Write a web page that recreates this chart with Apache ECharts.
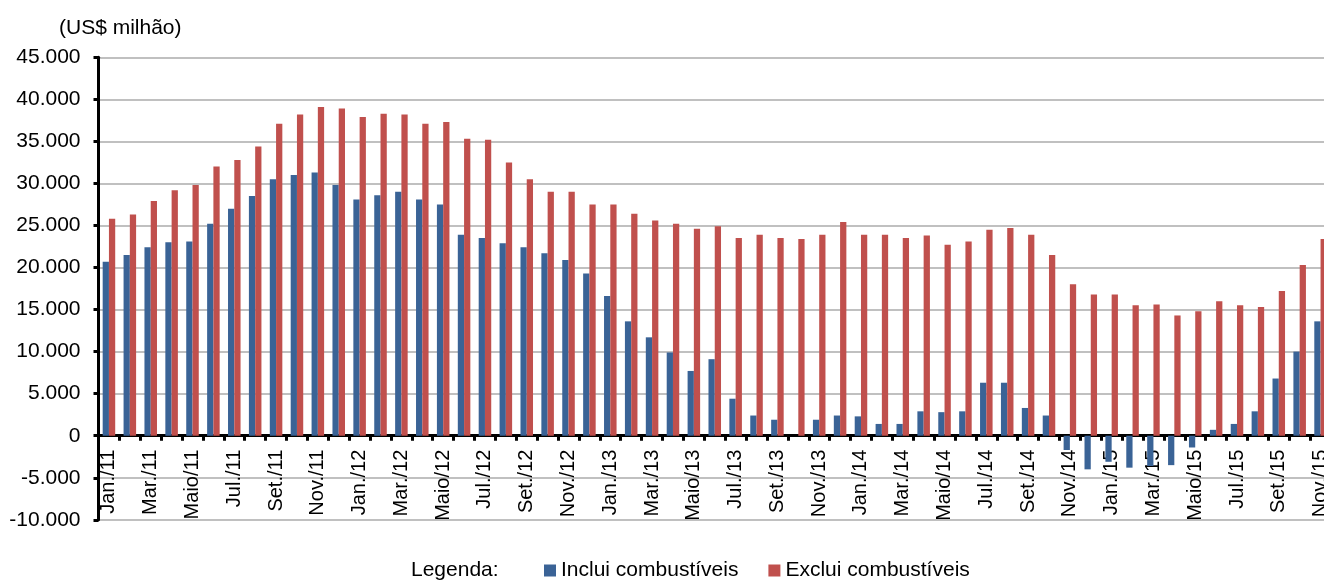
<!DOCTYPE html>
<html>
<head>
<meta charset="utf-8">
<script src="https://cdn.jsdelivr.net/npm/echarts@6/dist/echarts.min.js"></script>
<style>
html,body{margin:0;padding:0;background:#fff;}
#chart{width:1324px;height:581px;}
</style>
</head>
<body>
<div id="chart"></div>
<script>
const categories = [
  "Jan./11","Fev./11","Mar./11","Abr./11","Maio/11","Jun./11","Jul./11","Ago./11","Set./11","Out./11","Nov./11","Dez./11",
  "Jan./12","Fev./12","Mar./12","Abr./12","Maio/12","Jun./12","Jul./12","Ago./12","Set./12","Out./12","Nov./12","Dez./12",
  "Jan./13","Fev./13","Mar./13","Abr./13","Maio/13","Jun./13","Jul./13","Ago./13","Set./13","Out./13","Nov./13","Dez./13",
  "Jan./14","Fev./14","Mar./14","Abr./14","Maio/14","Jun./14","Jul./14","Ago./14","Set./14","Out./14","Nov./14","Dez./14",
  "Jan./15","Fev./15","Mar./15","Abr./15","Maio/15","Jun./15","Jul./15","Ago./15","Set./15","Out./15","Nov./15"
];
const incluiCombustiveis = [
  20700,21500,22400,23000,23100,25200,27000,28500,30500,31000,31300,29800,
  28100,28600,29000,28100,27500,23900,23500,22900,22400,21700,20900,19300,
  16600,13600,11700,9900,7700,9100,4400,2400,1900,0,1900,2400,
  2300,1400,1400,2900,2800,2900,6300,6300,3300,2400,-1700,-4000,
  -3100,-3800,-3600,-3500,-1400,700,1400,2900,6800,10000,13600
];
const excluiCombustiveis = [
  25800,26300,27900,29200,29800,32000,32800,34400,37100,38200,39100,38900,
  37900,38300,38200,37100,37300,35300,35200,32500,30500,29000,29000,27500,
  27500,26400,25600,25200,24600,24900,23500,23900,23500,23400,23900,25400,
  23900,23900,23500,23800,22700,23100,24500,24700,23900,21500,18000,16800,
  16800,15500,15600,14300,14800,16000,15500,15300,17200,20300,23400
];
const seriesNames = ["Inclui combustíveis","Exclui combustíveis"];
const unitLabel = "(US$ milhão)";
const legendLabel = "Legenda:";
const yMin = -10000, yMax = 45000, yStep = 5000;

const FONT = "'Liberation Sans', Arial, sans-serif";
function fmt(v){ return String(v).replace(/\B(?=(\d{3})+(?!\d))/g, '.'); }

const GRID_TOP = 57.3, GRID_BOTTOM_Y = 519.8;
const zeroY = GRID_TOP + (yMax - 0) / (yMax - yMin) * (GRID_BOTTOM_Y - GRID_TOP);

const chart = echarts.init(document.getElementById('chart'), null, {renderer:'canvas'});
chart.setOption({
  backgroundColor: '#ffffff',
  animation: false,
  grid: [
    { left: 98.5, right: -7, top: GRID_TOP, bottom: 581 - GRID_BOTTOM_Y, containLabel: false, outerBoundsMode: 'none' },
    { left: 98.5, right: -7, top: GRID_TOP, bottom: 581 - zeroY, containLabel: false, outerBoundsMode: 'none' }
  ],
  graphic: [
    { type:'text', left: 59, top: 18, style:{ text: unitLabel, font: "21px " + FONT, fill:'#000' } },
    { type:'text', left: 411, top: 560, style:{ text: legendLabel, font: "21px " + FONT, fill:'#000' } }
  ],
  legend: {
    left: 544, top: 560, padding: 0,
    itemWidth: 12, itemHeight: 12, itemGap: 30,
    icon: 'rect',
    textStyle: { fontSize: 21, fontFamily: FONT, color: '#000' },
    data: seriesNames
  },
  xAxis: [
    {
      type: 'category', gridIndex: 0,
      data: categories,
      boundaryGap: true,
      axisLine: { onZero: true, lineStyle: { color: '#000', width: 3 } },
      axisTick: { show: true, interval: 0, length: 5, lineStyle: { color: '#000', width: 3 } },
      axisLabel: { show: false },
      splitLine: { show: false }
    },
    {
      type: 'category', gridIndex: 1,
      data: categories,
      boundaryGap: true,
      axisLine: { show: false },
      axisTick: { show: false },
      axisLabel: { interval: 1, rotate: 90, margin: 14, fontSize: 20, fontFamily: FONT, color: '#000' },
      splitLine: { show: false }
    }
  ],
  yAxis: [
    {
      type: 'value', gridIndex: 0,
      min: yMin, max: yMax, interval: yStep,
      axisLine: { show: true, lineStyle: { color: '#000', width: 3 } },
      axisTick: { show: true, length: 5, lineStyle: { color: '#000', width: 3 } },
      axisLabel: { margin: 18, fontSize: 21, fontFamily: FONT, color: '#000', formatter: fmt },
      splitLine: { show: true, lineStyle: { color: '#C0C0C0', width: 2 } }
    },
    { type: 'value', gridIndex: 1, min: 0, max: 1, show: false }
  ],
  series: [
    { name: seriesNames[0], type: 'bar', xAxisIndex: 0, yAxisIndex: 0, data: incluiCombustiveis, barWidth: '30%', barGap: '0%',
      itemStyle: { color: '#3A6396' } },
    { name: seriesNames[1], type: 'bar', xAxisIndex: 0, yAxisIndex: 0, data: excluiCombustiveis, barWidth: '30%', barGap: '0%',
      itemStyle: { color: '#C0504D' } }
  ]
});
</script>
</body>
</html>
